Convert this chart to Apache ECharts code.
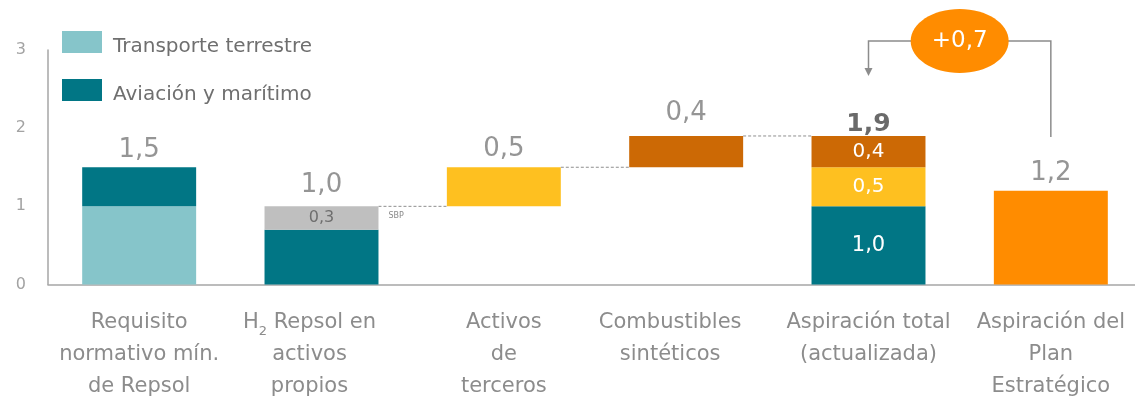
<!DOCTYPE html>
<html><head><meta charset="utf-8">
<script src="https://cdn.jsdelivr.net/npm/echarts@6/dist/echarts.min.js"></script>
<style>html,body{margin:0;padding:0;background:#fff}#c{width:1135px;height:420px}</style>
</head><body><div id="c"></div>
<script>
// ---- data ----
const categories = [
  'Requisito\nnormativo mín.\nde Repsol',
  '{n|H}{sub|2}{n| Repsol en}\nactivos\npropios',
  'Activos\nde\nterceros',
  'Combustibles\nsintéticos',
  'Aspiración total\n(actualizada)',
  'Aspiración del\nPlan\nEstratégico'
];
const legendNames = ['Transporte terrestre', 'Aviación y marítimo'];
const baseVals   = [0, 0, 1.0, 1.5, 0, 0];
const terrestre  = [1.0, '-', '-', '-', '-', '-'];
const aviacion   = [0.5, 0.7, '-', '-', 1.0, '-'];
const sbp        = ['-', 0.3, '-', '-', '-', '-'];
const terceros   = ['-', '-', 0.5, '-', 0.5, '-'];
const sinteticos = ['-', '-', '-', 0.4, 0.4, '-'];
const planEstr   = ['-', '-', '-', '-', '-', 1.2];
const totals      = [1.5, 1.0, 1.5, 1.9, 1.9, 1.2];
const totalLabels = ['1,5', '1,0', '0,5', '0,4', '1,9', '1,2'];
const connectors  = [[1, 1.0], [2, 1.5], [3, 1.9]];
const connectorNotes = ['SBP', '', ''];
const gapBracket  = [[4, 5, 1.9]];
const gapLabel    = '+0,7';
const yTicks      = [0, 1, 2, 3];

// ---- chart ----
const FF = 'DejaVu Sans';
const fmt = v => Number(v).toFixed(1).replace('.', ',');
const BW = 0.625;
const labelDistance = {0: 4, 1: 8, 2: 5, 3: 10, 4: -1, 5: 4};
const catShift = {1: 24, 3: 32};   // spacer width (px) shifting a category label left by half
const chart = echarts.init(document.getElementById('c'), null, {renderer: 'canvas'});

function seg(name, data, color, insideIdx, insideColor, insideSize) {
  return {
    name, type: 'bar', stack: 'all', data, barWidth: (BW * 100) + '%',
    itemStyle: {color},
    label: {
      show: true, position: 'inside', fontFamily: FF,
      color: insideColor || '#fff', fontSize: insideSize || 20,
      formatter: p => insideIdx.includes(p.dataIndex) ? fmt(p.value) : ''
    },
    emphasis: {disabled: true}
  };
}

const catRich = {
  n: {fontFamily: FF, fontSize: 21, color: '#8c8c8c', lineHeight: 32},
  sub: {fontFamily: FF, fontSize: 13, color: '#8c8c8c', verticalAlign: 'bottom', lineHeight: 27}
};
Object.keys(catShift).forEach(k => {
  catRich['g' + k] = {width: catShift[k], fontSize: 21, lineHeight: 32};
});

function legendAt(name, top) {
  return {
    data: [name], orient: 'vertical', left: 62, top, padding: 0,
    itemWidth: 40, itemHeight: 22, icon: 'rect', selectedMode: false,
    formatter: '{t|{name}}',
    textStyle: {
      fontFamily: FF, fontSize: 20, color: '#6f6f6f',
      rich: {t: {fontFamily: FF, fontSize: 20, color: '#6f6f6f', padding: [9, 0, 0, 6]}}
    }
  };
}

chart.setOption({
  animation: false,
  grid: {left: 48, top: 50, right: -7, bottom: 420 - 284.5, outerBoundsMode: 'none', containLabel: false},
  legend: [legendAt(legendNames[0], 31), legendAt(legendNames[1], 79)],
  xAxis: {
    type: 'category', data: categories,
    axisLine: {lineStyle: {color: '#a6a6a6', width: 1.5}},
    axisTick: {show: false},
    axisLabel: {
      interval: 0, margin: 22, fontFamily: FF, fontSize: 21, color: '#8c8c8c',
      lineHeight: 32, rich: catRich, hideOverlap: false,
      formatter: (val, idx) => catShift[idx]
        ? val.split('\n').map(l => l + '{g' + idx + '| }').join('\n')
        : val
    }
  },
  yAxis: {
    type: 'value', min: yTicks[0], max: yTicks[yTicks.length - 1], interval: 1,
    axisLine: {show: true, lineStyle: {color: '#a6a6a6', width: 1.5}},
    axisTick: {show: false},
    splitLine: {show: false},
    axisLabel: {margin: 22, fontFamily: FF, fontSize: 16, color: '#a3a3a3'}
  },
  series: [
    {name: 'base', type: 'bar', stack: 'all', data: baseVals, barWidth: (BW * 100) + '%',
     itemStyle: {color: 'transparent'}, silent: true},
    seg(legendNames[0], terrestre, '#86C5CA', []),
    seg(legendNames[1], aviacion, '#017685', [4], '#fff', 21),
    seg('SBP', sbp, '#BFBFBF', [1], '#6e6e6e', 16),
    seg('Activos de terceros', terceros, '#FEC020', [4], '#fff', 20),
    seg('Combustibles sintéticos', sinteticos, '#CC6905', [4], '#fff', 20),
    seg('Aspiración del Plan Estratégico', planEstr, '#FF8C00', []),
    {
      name: 'totals', type: 'scatter', symbolSize: 0, silent: true, z: 5,
      data: totals.map((v, i) => ({
        value: v,
        label: i === 4
          ? {distance: labelDistance[i], fontWeight: 'bold', color: '#454545', fontSize: 25}
          : {distance: labelDistance[i]}
      })),
      label: {
        show: true, position: 'top', fontFamily: FF, fontSize: 26,
        color: '#7a7a7a',
        formatter: p => totalLabels[p.dataIndex]
      },
      labelLayout: {hideOverlap: false}
    },
    {
      name: 'connectors', type: 'custom', data: connectors, clip: false, silent: true,
      renderItem: (params, api) => {
        const p = api.coord([api.value(0), api.value(1)]);
        const w = api.size([1, 0])[0];
        const hb = w * BW / 2;
        const note = connectorNotes[params.dataIndex];
        const children = [{
          type: 'line',
          shape: {x1: p[0] + hb, y1: p[1], x2: p[0] + w - hb, y2: p[1]},
          style: {stroke: '#8f8f8f', lineWidth: 1, lineDash: [3, 2]}
        }];
        if (note) children.push({
          type: 'text', x: p[0] + hb + 10, y: p[1] + 10,
          style: {text: note, fontFamily: FF, fontSize: 8, fill: '#8a8a8a', verticalAlign: 'middle'}
        });
        return {type: 'group', children};
      }
    },
    {
      name: 'bracket', type: 'custom', data: gapBracket, clip: false, silent: true, z: 10,
      renderItem: (params, api) => {
        const a = api.coord([api.value(0), api.value(2)]);
        const b = api.coord([api.value(1), api.value(2)]);
        const topY = params.coordSys.y - 9;
        const xm = (a[0] + b[0]) / 2;
        const col = '#8c8c8c';
        return {type: 'group', children: [
          {type: 'polyline', shape: {points: [[b[0], a[1] + 1], [b[0], topY], [a[0], topY], [a[0], topY + 28]]},
           style: {stroke: col, lineWidth: 1.5, fill: null}},
          {type: 'polygon', shape: {points: [[a[0] - 4, topY + 27], [a[0] + 4, topY + 27], [a[0], topY + 35]]},
           style: {fill: col}},
          {type: 'ellipse', shape: {cx: xm, cy: topY, rx: 49, ry: 32}, style: {fill: '#FF8C00'}},
          {type: 'text', x: xm, y: topY,
           style: {text: gapLabel, fontFamily: FF, fontSize: 23, fill: '#fff', align: 'center', verticalAlign: 'middle'}}
        ]};
      }
    }
  ]
});
</script></body></html>
